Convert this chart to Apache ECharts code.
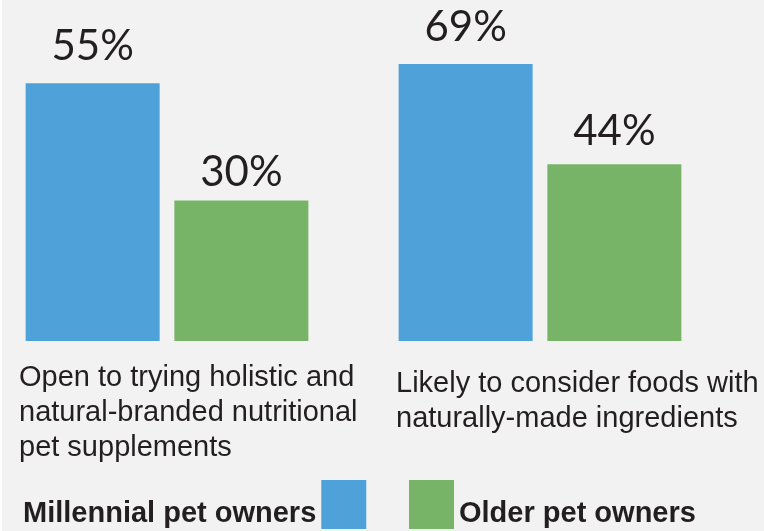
<!DOCTYPE html>
<html>
<head>
<meta charset="utf-8">
<script src="https://cdn.jsdelivr.net/npm/echarts@6/dist/echarts.min.js"></script>
<style>
  html, body { margin: 0; padding: 0; background: #fff; }
  #chart { width: 764px; height: 531px; }
</style>
</head>
<body>
<div id="chart"></div>
<script>
  // data
  const categories = [
    'Open to trying holistic and\nnatural-branded nutritional\npet supplements',
    'Likely to consider foods with\nnaturally-made ingredients'
  ];
  const seriesNames = ['Millennial pet owners', 'Older pet owners'];
  const millennial = [55, 69];
  const older = [30, 44];

  // styling
  const colors = ['#4fa1d9', '#78b467'];
  const textColor = '#231f20';
  // each panel is its own little chart with its own scale
  const panels = [
    {left: 17, top: 13, labelLeft: 19, labelTop: 360, gaps: [16, 7]},
    {left: 390, top: 60, labelLeft: 396, labelTop: 366, gaps: [16, 12]}
  ];

  const chart = echarts.init(document.getElementById('chart'));

  const values = [millennial, older];
  const series = [];
  panels.forEach(function (p, i) {
    values.forEach(function (vals, s) {
      series.push({
        name: seriesNames[s],
        type: 'bar',
        xAxisIndex: i,
        yAxisIndex: i,
        data: [vals[i]],
        barWidth: 134,
        barGap: '11%',
        itemStyle: {color: colors[s]},
        label: {
          show: true,
          position: 'top',
          distance: p.gaps[s],
          formatter: '{c}%',
          fontFamily: 'Lato',
          fontSize: 42,
          color: textColor
        }
      });
    });
  });

  // empty first line pushes the legend text below the icon centre
  const legendText = {
    fontFamily: 'Liberation Sans',
    fontSize: 29,
    fontWeight: 'bold',
    lineHeight: 18,
    color: textColor
  };

  const option = {
    backgroundColor: '#f2f2f2',
    animation: false,
    title: categories.map(function (c, i) {
      return {
        text: c,
        left: panels[i].labelLeft,
        top: panels[i].labelTop,
        padding: 0,
        textStyle: {
          fontFamily: 'Liberation Sans',
          fontSize: 29,
          fontWeight: 'normal',
          lineHeight: 35,
          color: textColor
        }
      };
    }),
    legend: [
      {
        data: [seriesNames[0]],
        left: 23,
        top: 480,
        padding: 0,
        align: 'right',
        itemWidth: 45,
        itemHeight: 49,
        icon: 'rect',
        formatter: '\n{name}',
        textStyle: legendText
      },
      {
        data: [seriesNames[1]],
        left: 409,
        top: 480,
        padding: 0,
        align: 'left',
        itemWidth: 45,
        itemHeight: 49,
        icon: 'rect',
        formatter: '\n{name}',
        textStyle: legendText
      }
    ],
    grid: panels.map(function (p) {
      return {left: p.left, width: 300, top: p.top, bottom: 190};
    }),
    xAxis: panels.map(function (p, i) {
      return {
        type: 'category',
        gridIndex: i,
        data: [categories[i]],
        axisLine: {show: false},
        axisTick: {show: false},
        axisLabel: {show: false}
      };
    }),
    yAxis: panels.map(function (p, i) {
      return {
        type: 'value',
        gridIndex: i,
        min: 0,
        max: 70,
        show: false
      };
    }),
    graphic: [{
      type: 'rect',
      shape: {x: 0, y: 0, width: 2, height: 531},
      style: {fill: '#ffffff'}
    }],
    series: series
  };

  chart.setOption(option);
</script>
</body>
</html>
